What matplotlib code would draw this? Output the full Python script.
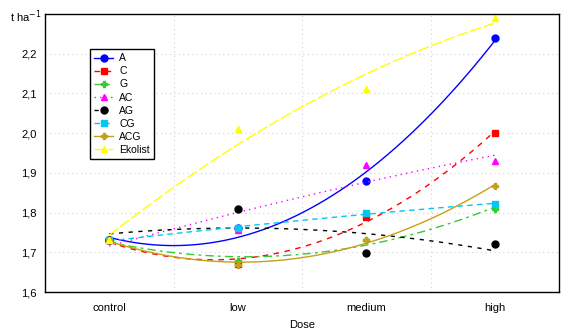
import numpy as np
import matplotlib
matplotlib.use("Agg")
import matplotlib.pyplot as plt

plt.rcParams['font.family'] = ['Liberation Sans', 'DejaVu Sans']

doses = ["control", "low", "medium", "high"]
series_names = ["A", "C", "G", "AC", "AG", "CG", "ACG", "Ekolist"]
A = [1.73, 1.76, 1.88, 2.24]
C = [1.73, 1.67, 1.79, 2.00]
G = [1.73, 1.677, 1.73, 1.81]
AC = [1.73, 1.757, 1.92, 1.93]
AG = [1.73, 1.81, 1.698, 1.72]
CG = [1.73, 1.76, 1.80, 1.822]
ACG = [1.73, 1.668, 1.73, 1.868]
Ekolist = [1.73, 2.01, 2.11, 2.29]
yticks = [1.6, 1.7, 1.8, 1.9, 2.0, 2.1, 2.2]
ytick_labels = ["1,6", "1,7", "1,8", "1,9", "2,0", "2,1", "2,2"]

data = [A, C, G, AC, AG, CG, ACG, Ekolist]
colors = ["#0000FF", "#FF0000", "#33CC33", "#FF00FF", "#000000", "#00C8F0", "#C8A014", "#FFFF00"]
markers = ["o", "s", "P", "^", "o", "s", "P", "^"]
styles = ["-", (0, (4, 4)), (0, (6, 3, 2, 3)), (0, (1, 3)), (0, (3, 4)), (0, (4, 3)), "-", (0, (8, 2))]

fig = plt.figure(figsize=(5.75, 3.34), dpi=100)
ax = fig.add_axes([45/575, 1 - 292/334, (559-45)/575, (292-14)/334])

x = np.arange(len(doses))
xs = np.linspace(0, 3, 200)
for name, ys, c, m, ls in zip(series_names, data, colors, markers, styles):
    coef = np.polyfit(x, ys, 2)
    ax.plot(xs, np.polyval(coef, xs), color=c, linestyle=ls, linewidth=1)
    ax.plot(x, ys, linestyle='none', marker=m, color=c, markersize=5)
    ax.plot([], [], color=c, linestyle=ls, marker=m, markersize=5, linewidth=1, label=name)

ax.set_xlim(-0.5, 3.5)
ax.set_ylim(1.6, 2.3)
ax.set_xticks(x)
ax.set_xticklabels(doses, fontsize=8)
ax.set_yticks(yticks)
ax.set_yticklabels(ytick_labels, fontsize=8)
ax.set_xticks([0.5, 1.5, 2.5], minor=True)
ax.tick_params(which='both', length=0)
ax.tick_params(axis='x', pad=8)
ax.tick_params(axis='y', pad=6)
ax.grid(True, which='major', axis='y', color='#D0D0E4', linestyle=(0, (1, 3)), linewidth=0.8)
ax.grid(True, which='minor', axis='x', color='#D0D0E4', linestyle=(0, (1, 3)), linewidth=0.8)
for s in ax.spines.values():
    s.set_color('black')
    s.set_linewidth(1)

ax.set_xlabel("Dose", fontsize=8, labelpad=5)
fig.text(10/575, 1 - 17/334, "t ha$^{-1}$", fontsize=8, va='center', ha='left')

leg = ax.legend(loc='upper left', bbox_to_anchor=(45/514, 1 - 35/278), fontsize=7.5,
                frameon=True, fancybox=False, edgecolor='black', framealpha=1,
                handlelength=1.8, labelspacing=0.3, borderpad=0.4, handletextpad=0.6,
                borderaxespad=0)
leg.get_frame().set_linewidth(1)

fig.savefig("out.png", dpi=100)
